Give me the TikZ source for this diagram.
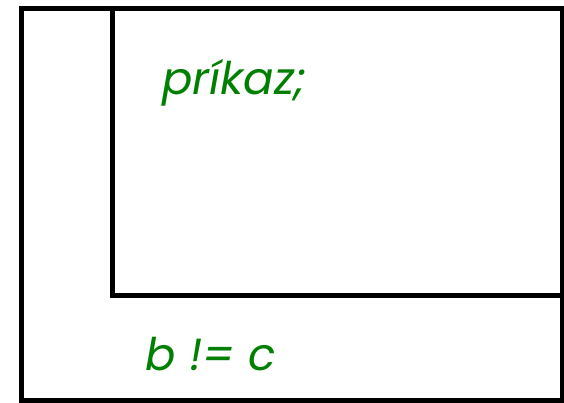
\documentclass[tikz,border=0pt]{standalone}
\usepackage{fontspec}
\setmainfont{Poppins}
\usetikzlibrary{calc}
\definecolor{codegreen}{RGB}{0,128,0}
\tikzset{
  frame/.style={line width=5pt,draw=black},
  code/.style={text=codegreen,font=\fontsize{45}{52}\selectfont\itshape,anchor=base west,inner sep=0pt}
}

\begin{document}
\begin{tikzpicture}[x=1pt,y=-1pt]
    \useasboundingbox (0,0) rectangle (564,402);
    \draw[frame] (21.5,8.5) rectangle (562,400);
    \draw[frame] (562,8.5)--(112.5,8.5)--(112.5,295.5)--(562,295.5);
    \node[code] (body) at (162,94){príkaz;};
    \node[code] (cond) at (145,370){b != c};
  \end{tikzpicture}
\end{document}
